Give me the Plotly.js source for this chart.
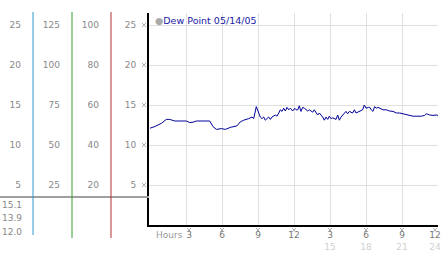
<!DOCTYPE html>
<html><head><meta charset="utf-8">
<script src="https://cdn.plot.ly/plotly-3.0.1.min.js"></script>
<style>html,body{margin:0;padding:0;background:#fff;}#chart{width:442px;height:253px;}</style>
</head><body><div id="chart"></div>
<script>
// ---- data ----
const hours = [0,0.39,0.94,1.36,1.64,2.06,3.03,3.31,3.58,3.86,4.98,5.25,5.53,5.94,6.28,6.69,7.25,7.53,7.81,8.08,8.23,8.5,8.64,8.86,9.06,9.19,9.33,9.47,9.61,9.89,10.03,10.17,10.44,10.58,10.73,10.86,11.0,11.14,11.28,11.42,11.56,11.69,11.89,12.06,12.17,12.31,12.44,12.58,12.72,12.86,13.14,13.28,13.56,13.69,13.97,14.11,14.39,14.53,14.67,14.81,14.94,15.08,15.22,15.5,15.64,15.78,15.92,16.19,16.33,16.47,16.61,16.89,17.03,17.17,17.44,17.72,17.86,18.0,18.22,18.31,18.44,18.58,18.72,18.86,19.0,19.28,19.42,19.69,19.97,20.25,20.53,20.81,21.08,21.36,21.64,21.92,22.19,22.61,22.89,23.03,23.31,23.58,23.86,24.0];
const dewPoint = [12.1,12.3,12.7,13.2,13.2,13.0,13.0,12.8,12.85,13.0,13.0,12.3,11.95,12.05,11.95,12.2,12.4,12.9,13.1,13.2,13.3,13.5,13.3,14.8,14.0,13.5,13.3,13.5,13.1,13.5,13.2,13.5,13.75,13.6,14.0,14.4,14.2,14.6,14.25,14.7,14.4,14.6,14.25,14.6,14.4,14.4,14.9,14.2,14.7,14.6,14.25,14.4,14.1,14.4,13.75,14.0,13.5,13.1,13.5,13.2,13.6,13.3,13.4,13.2,13.75,13.1,13.5,14.0,14.2,13.9,14.2,14.0,14.4,14.0,14.25,14.4,15.0,14.6,14.7,14.7,14.4,14.2,14.8,14.6,14.7,14.5,14.4,14.4,14.25,14.2,14.0,14.0,13.9,13.75,13.7,13.6,13.6,13.6,13.7,13.9,13.75,13.7,13.75,13.7];
const seriesName = "Dew Point 05/14/05";
const xTickVals = [3,6,9,12,15,18,21,24];
const xTickTop = ["3","6","9","12","3","6","9","12"];
const xTickBottom = ["","","","","15","18","21","24"];
const yTickVals = [5,10,15,20,25];
const col2Ticks = [25,50,75,100,125];
const col3Ticks = [20,40,60,80,100];
const statLabels = ["15.1","13.9","12.0"];

// ---- layout helpers ----
const W = 438; // paper width in px (442 - right margin)
const plotLeft = 149;
const yTop = 26.5;
const xRange = [-1/12, 24];
const FAM = "DejaVu Sans, Verdana, sans-serif";
const font = {family: FAM, size: 9, color: "#888"};

// label positions: nudge the two edge labels inward, as in the original
const last = xTickVals.length - 1;
const xLabelPos = xTickVals.map((v,i) => i === 0 ? v + 0.25 : (i === last ? v - 0.25 : v));
const xTickText = xTickVals.map((v,i) => xTickBottom[i]
  ? xTickTop[i] + '<br><span style="color:#cfcfcf">' + xTickBottom[i] + '</span>'
  : xTickTop[i]);

const trace = {
  x: hours, y: dewPoint, type: 'scatter', mode: 'lines',
  line: {color: '#000099', width: 1}, showlegend: false, hoverinfo: 'none'
};
const dummyX2 = {x:[null], y:[null], xaxis:'x2', showlegend:false, hoverinfo:'none'};
const dummy2 = {x:[null], y:[null], yaxis:'y2', showlegend:false, hoverinfo:'none'};
const dummy3 = {x:[null], y:[null], yaxis:'y3', showlegend:false, hoverinfo:'none'};
const dummy4 = {x:[null], y:[null], yaxis:'y4', showlegend:false, hoverinfo:'none'};

function freeAxis(pos, scale, vals) {
  return {
    anchor: 'free', position: pos, overlaying: 'y', side: 'left',
    range: [0, yTop*scale], tickvals: vals, ticktext: vals.map(String),
    showgrid: false, zeroline: false, showline: false, ticks: '',
    ticklabelstandoff: 12, tickfont: font, fixedrange: true
  };
}

// small "x" tick decorations just outside the axes (pixel-sized shapes)
const markLine = {color: '#b0b0b0', width: 1};
const xMarkShapes = xLabelPos.flatMap(v => [[-2,2,-7,-3],[-2,2,-3,-7]].map(d => ({
  type:'line', xref:'x', xsizemode:'pixel', xanchor:v, x0:d[0], x1:d[1],
  yref:'paper', ysizemode:'pixel', yanchor:0, y0:d[2], y1:d[3], line:markLine, layer:'above'})));
const yMarkShapes = yTickVals.flatMap(v => [[-7,-3,-2,2],[-7,-3,2,-2]].map(d => ({
  type:'line', xref:'paper', xsizemode:'pixel', xanchor:plotLeft/W, x0:d[0], x1:d[1],
  yref:'y', ysizemode:'pixel', yanchor:v, y0:d[2], y1:d[3], line:markLine, layer:'above'})));

const layout = {
  width: 442, height: 253,
  margin: {l: 0, r: 4, t: 13, b: 28, pad: 0},
  paper_bgcolor: '#fff', plot_bgcolor: '#fff',
  font: font,
  xaxis: {
    domain: [plotLeft/W, 1], range: xRange, tickvals: xTickVals, showticklabels: false,
    showgrid: true, gridcolor: '#e0e0e0', gridwidth: 1, zeroline: false,
    showline: true, linecolor: '#000', linewidth: 2, ticks: '', fixedrange: true
  },
  xaxis2: {
    overlaying: 'x', anchor: 'y', side: 'bottom', range: xRange,
    tickvals: xLabelPos, ticktext: xTickText,
    showgrid: false, zeroline: false, showline: false,
    ticks: '', ticklabelstandoff: 3,
    tickfont: {family: FAM, size: 9, color: '#777'}, fixedrange: true
  },
  yaxis: {
    range: [0, yTop], tickvals: yTickVals, ticktext: yTickVals.map(String),
    showgrid: true, gridcolor: '#e0e0e0', zeroline: false,
    showline: true, linecolor: '#000', linewidth: 2,
    ticks: '', ticklabelstandoff: 9, tickfont: font, fixedrange: true
  },
  yaxis2: freeAxis(33/W, 1, yTickVals),
  yaxis3: freeAxis(72/W, 5, col2Ticks),
  yaxis4: freeAxis(111/W, 4, col3Ticks),
  shapes: [
    {type:'line', xref:'paper', yref:'paper', x0:0, x1:plotLeft/W, y0:28/212, y1:28/212, line:{color:'#a0a0a0', width:2}},
    {type:'line', xref:'paper', yref:'paper', x0:33/W, x1:33/W, y0:-10/212, y1:213/212, line:{color:'#3399cc', width:1}},
    {type:'line', xref:'paper', yref:'paper', x0:72/W, x1:72/W, y0:-13/212, y1:213/212, line:{color:'#33a033', width:1}},
    {type:'line', xref:'paper', yref:'paper', x0:111/W, x1:111/W, y0:-13/212, y1:213/212, line:{color:'#b83030', width:1}},
    ...xMarkShapes, ...yMarkShapes
  ],
  annotations: [
    {xref:'paper', yref:'paper', x:153/W, y:205/212, xanchor:'left', yanchor:'middle', showarrow:false,
     text:'<span style="color:#aaa">●</span>' + seriesName, font:{family:FAM, size:9.5, color:'#1a1aa6'}},
    {xref:'x', yref:'paper', x:0.3, y:0, yshift:-3, xanchor:'left', yanchor:'top', showarrow:false,
     text:'Hours', font:{family:FAM, size:9, color:'#999'}},
    ...statLabels.map((s,i) => ({xref:'paper', yref:'paper', x:0, y:[20,7,-7][i]/212, xanchor:'left', yanchor:'middle',
      showarrow:false, text:s, font:font}))
  ]
};

Plotly.newPlot('chart', [trace, dummyX2, dummy2, dummy3, dummy4], layout, {staticPlot: true, displayModeBar: false});
</script>
</body></html>
